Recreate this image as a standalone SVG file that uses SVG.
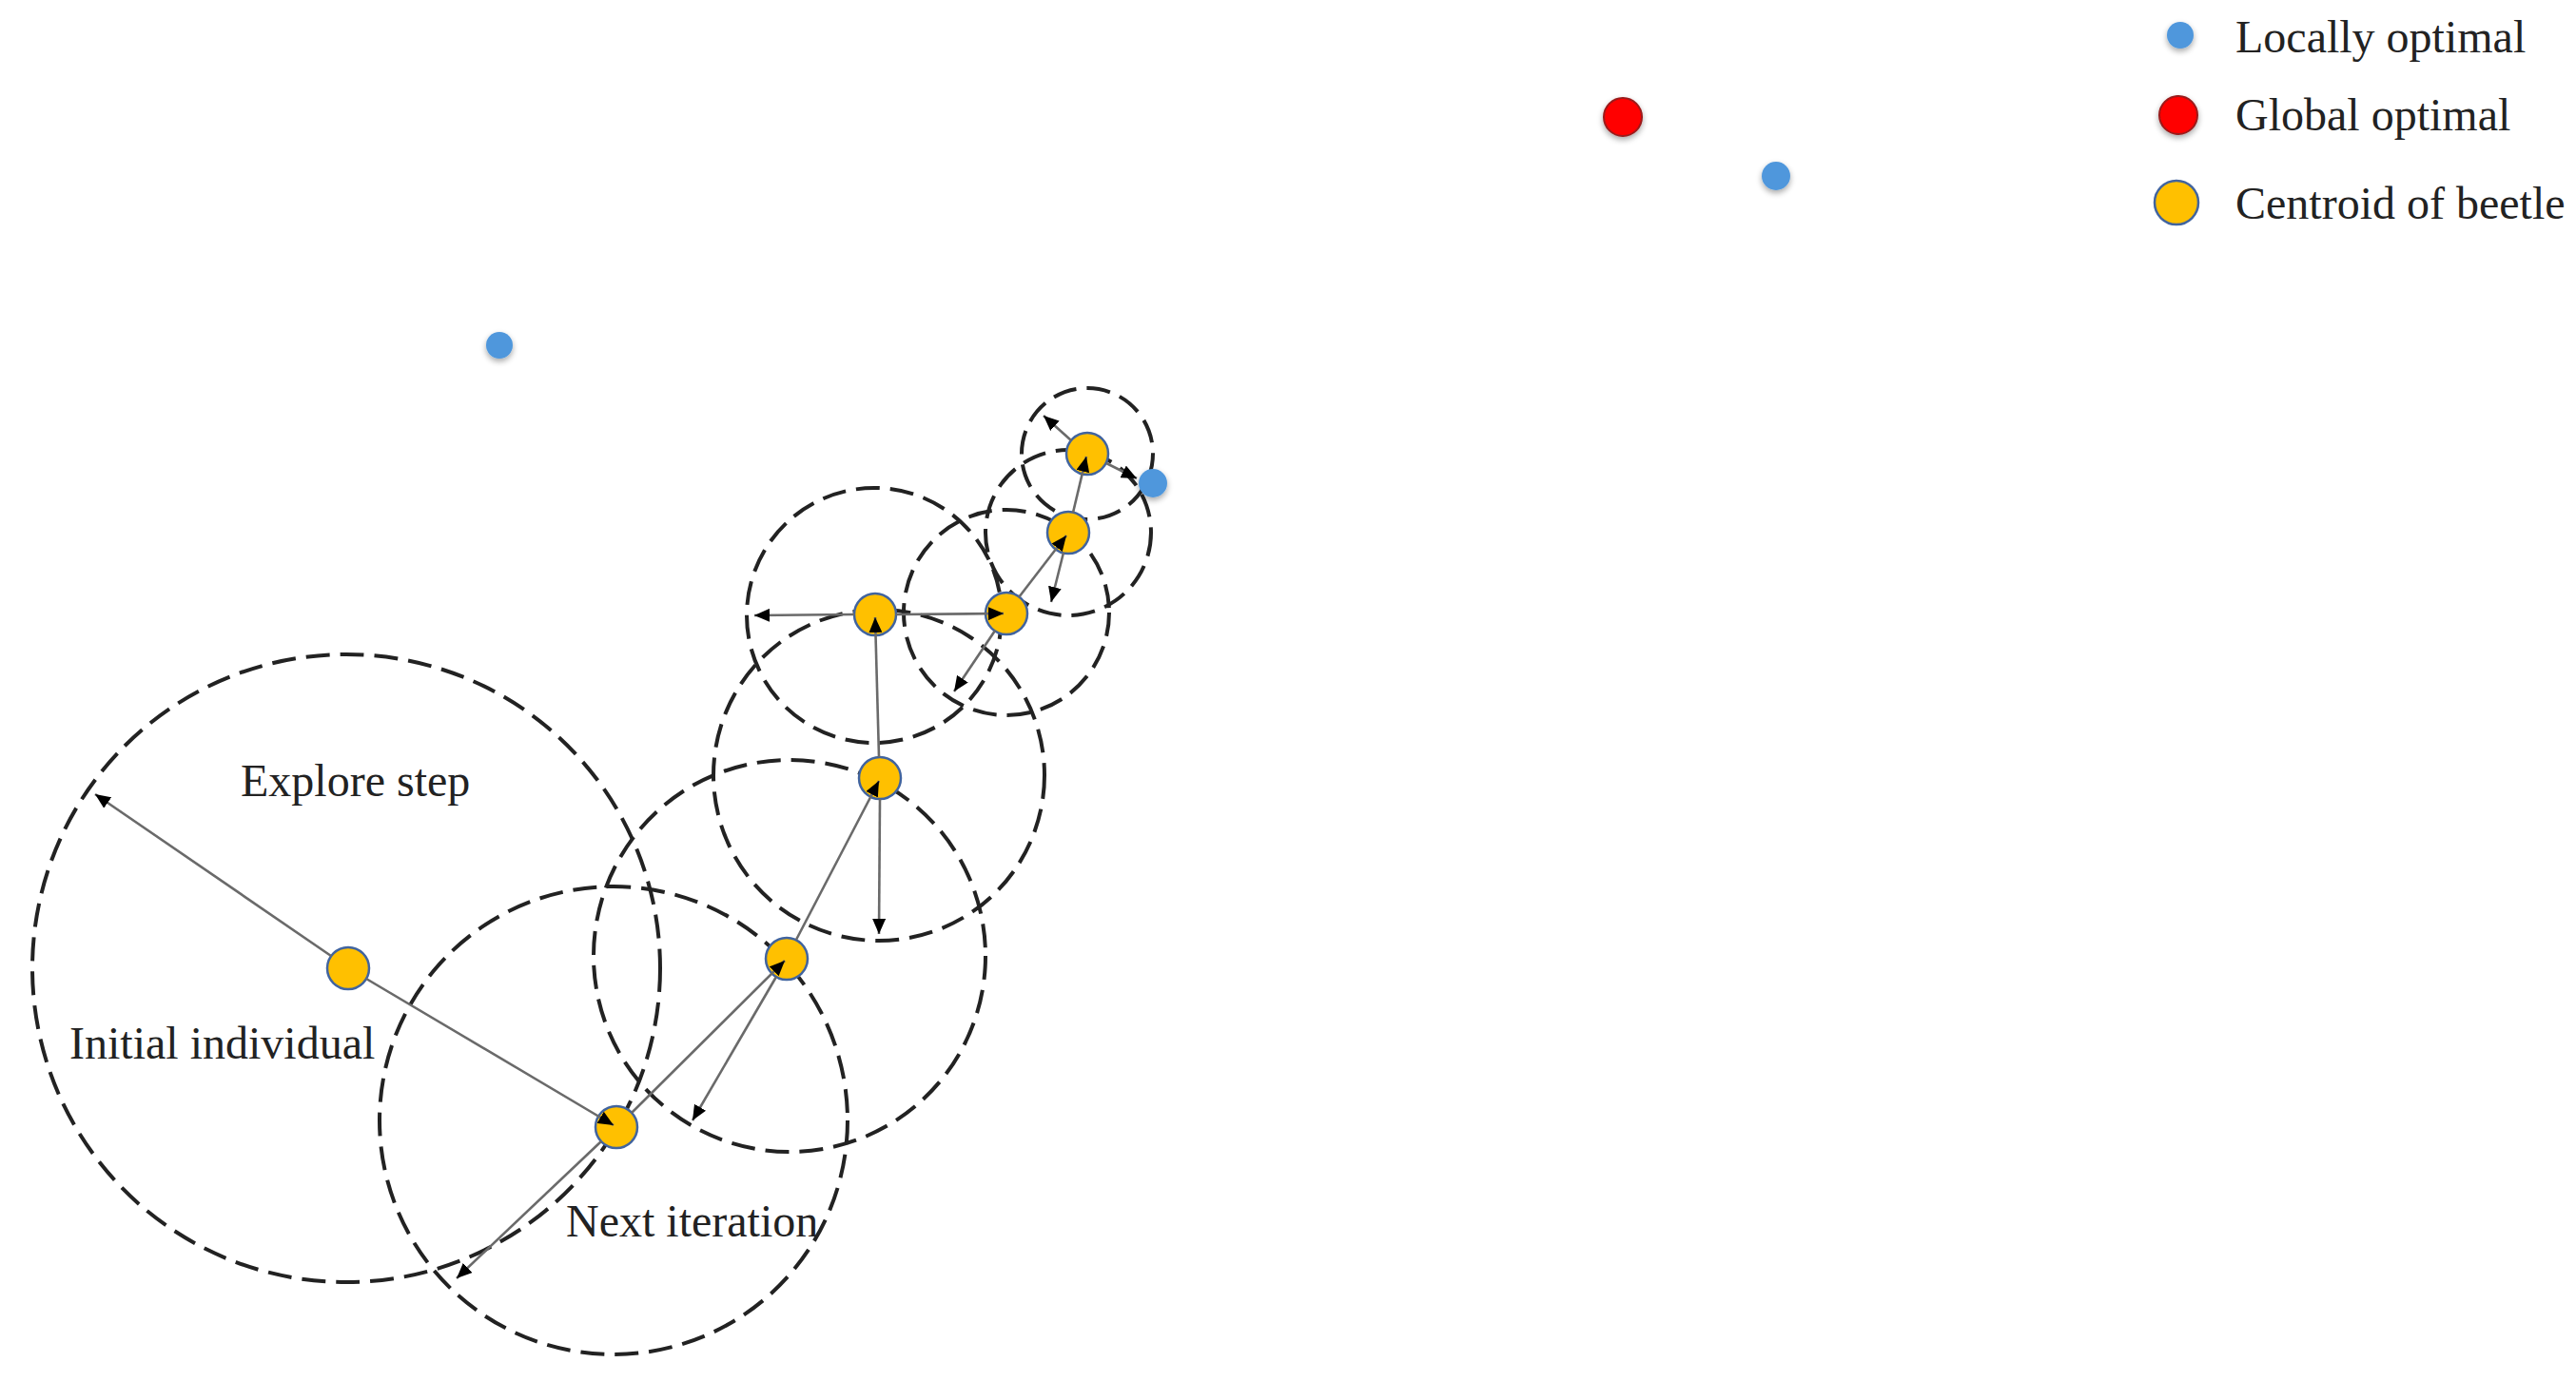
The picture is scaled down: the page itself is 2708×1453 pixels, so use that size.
<svg xmlns="http://www.w3.org/2000/svg" width="2708" height="1453" viewBox="0 0 2708 1453">
<defs>
<style>
.ring{fill:none;stroke:#222;stroke-width:4;stroke-dasharray:25 11}
.beetle{fill:#FFC000;stroke:#41649f;stroke-width:2.5}
.local{fill:#4f97dc}
.global{fill:#ff0000;stroke:#9a1a1a;stroke-width:2}
.lbl{font-family:"Liberation Serif","Times New Roman",serif;font-size:48px;fill:#222}
.conn line{stroke:#6a6a6a;stroke-width:2.6;marker-end:url(#ah)}
</style>
<marker id="ah" markerUnits="userSpaceOnUse" markerWidth="18" markerHeight="14" refX="16" refY="7" orient="auto">
<path d="M0,0 L16,7 L0,14 z" fill="#000"/>
</marker>
<filter id="sh" x="-60%" y="-60%" width="220%" height="220%">
<feGaussianBlur in="SourceAlpha" stdDeviation="3"/>
<feOffset dx="0" dy="3" result="b"/>
<feComponentTransfer><feFuncA type="linear" slope="0.35"/></feComponentTransfer>
<feMerge><feMergeNode/><feMergeNode in="SourceGraphic"/></feMerge>
</filter>
</defs>
<rect width="2708" height="1453" fill="#fff"/>

<g id="search-rings">
<circle class="ring" cx="364" cy="1018" r="330"/>
<circle class="ring" cx="645" cy="1178" r="246"/>
<circle class="ring" cx="830" cy="1005" r="206"/>
<circle class="ring" cx="924" cy="815" r="174"/>
<circle class="ring" cx="919" cy="647" r="134"/>
<circle class="ring" cx="1058" cy="644" r="108"/>
<circle class="ring" cx="1123" cy="560" r="87"/>
<circle class="ring" cx="1143" cy="477" r="69"/>
</g>

<g id="optima">
<circle id="local-1" class="local" cx="525" cy="363" r="14" filter="url(#sh)"/>
<circle id="local-2" class="local" cx="1212" cy="508" r="15" filter="url(#sh)"/>
<circle id="local-3" class="local" cx="1867" cy="185" r="15" filter="url(#sh)"/>
<circle id="global-1" class="global" cx="1706" cy="123" r="20" filter="url(#sh)"/>
</g>

<g id="beetles">
<circle id="b0" class="beetle" cx="366" cy="1018" r="22"/>
<circle id="b1" class="beetle" cx="648" cy="1185" r="22"/>
<circle id="b2" class="beetle" cx="827" cy="1008" r="22"/>
<circle id="b3" class="beetle" cx="925" cy="818" r="22"/>
<circle id="b4" class="beetle" cx="920" cy="646" r="22"/>
<circle id="b5" class="beetle" cx="1058" cy="645" r="22"/>
<circle id="b6" class="beetle" cx="1123" cy="560" r="22"/>
<circle id="b7" class="beetle" cx="1143" cy="477" r="22"/>
</g>

<g id="connectors" class="conn">
<line x1="348" y1="1005" x2="100" y2="835"/>
<line x1="385" y1="1029" x2="645" y2="1183"/>
<line x1="632" y1="1200" x2="480" y2="1344"/>
<line x1="664" y1="1170" x2="825" y2="1010"/>
<line x1="816" y1="1027" x2="728" y2="1178"/>
<line x1="837" y1="988" x2="924" y2="821"/>
<line x1="925" y1="840" x2="924" y2="982"/>
<line x1="924" y1="796" x2="920" y2="649"/>
<line x1="898" y1="646" x2="793" y2="647"/>
<line x1="942" y1="646" x2="1055" y2="645"/>
<line x1="1046" y1="663" x2="1003" y2="727"/>
<line x1="1071" y1="628" x2="1121" y2="563"/>
<line x1="1118" y1="581" x2="1105" y2="633"/>
<line x1="1128" y1="539" x2="1142" y2="480"/>
<line x1="1126" y1="463" x2="1097" y2="437"/>
<line x1="1163" y1="487" x2="1195" y2="503"/>
</g>

<g id="labels">
<text class="lbl" x="253" y="837">Explore step</text>
<text class="lbl" x="73" y="1113">Initial individual</text>
<text class="lbl" x="595" y="1300">Next iteration</text>
</g>

<g id="legend">
<g id="legend-local">
<circle class="local" cx="2292" cy="37" r="14" filter="url(#sh)"/>
<text class="lbl" x="2350" y="55">Locally optimal</text>
</g>
<g id="legend-global">
<circle class="global" cx="2290" cy="121" r="20" filter="url(#sh)"/>
<text class="lbl" x="2350" y="137">Global optimal</text>
</g>
<g id="legend-beetle">
<circle class="beetle" cx="2288" cy="213" r="23"/>
<text class="lbl" x="2350" y="230">Centroid of beetle</text>
</g>
</g>
</svg>
